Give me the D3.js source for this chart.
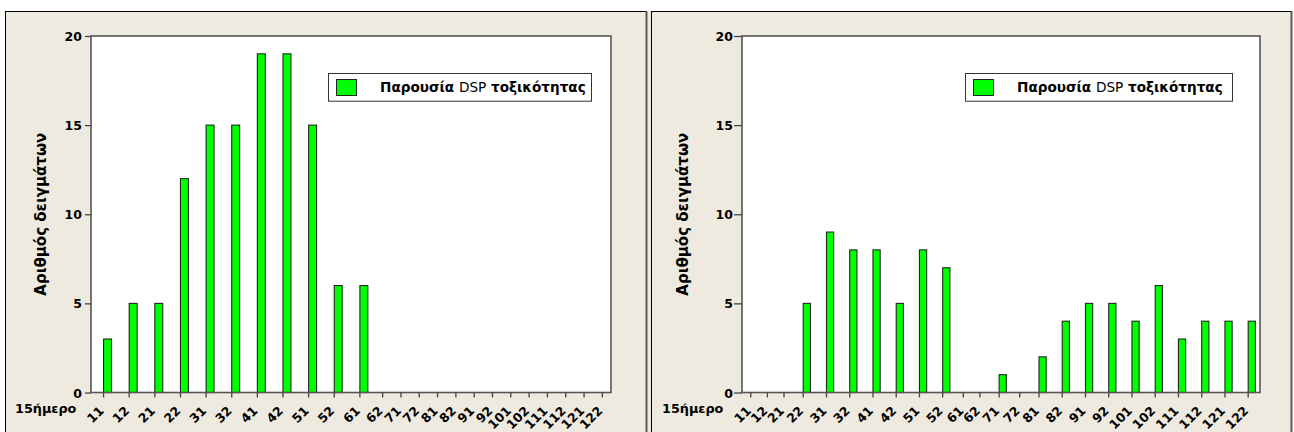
<!DOCTYPE html>
<html>
<head>
<meta charset="utf-8">
<script src="https://cdn.jsdelivr.net/npm/d3@7"></script>
<style>
  html, body { margin: 0; padding: 0; background: #ffffff; }
  svg { display: block; }
  text { font-family: "DejaVu Sans", Verdana, sans-serif; font-weight: bold; fill: #000; }
</style>
</head>
<body>
<svg id="chart" width="1294" height="432"></svg>
<script>
// ---- data ----
const categories = ["11","12","21","22","31","32","41","42","51","52","61","62","71","72","81","82","91","92","101","102","111","112","121","122"];
const leftValues  = [3,5,5,12,15,15,19,19,15,6,6,0,0,0,0,0,0,0,0,0,0,0,0,0];
const rightValues = [0,0,0,5,9,8,8,5,8,7,0,0,1,0,2,4,5,5,4,6,3,4,4,4];
const yTicks = [0,5,10,15,20];
const yTitle = "Αριθμός δειγμάτων";
const xTitle = "15ήμερο";
const legendMain1 = "Παρουσία ";
const legendDSP = "DSP";
const legendMain2 = " τοξικότητας";

// ---- layout ----
const panels = [
  { values: leftValues, frame: [5.5, 11.5, 646.5], plot: [91, 36, 611, 392.5],
    yTickSize: 6, yPad: 3, yTitleX: 46, xTitleX: 15, legend: [328, 73, 591, 100.7], legendTextX: 380 },
  { values: rightValues, frame: [651.5, 11.5, 1291.5], plot: [742, 36, 1260, 392.5],
    yTickSize: 8, yPad: 1, yTitleX: 688, xTitleX: 662, legend: [965, 73, 1232, 100.7], legendTextX: 1017 }
];

const svg = d3.select("#chart");
// beige strip between the two panels
svg.append("rect").attr("x", 646).attr("y", 11).attr("width", 6).attr("height", 430).attr("fill", "#EEEAE0");

panels.forEach(p => {
  const g = svg.append("g");
  const [fx0, fy0, fx1] = p.frame;
  // panel background
  g.append("rect").attr("x", fx0).attr("y", fy0).attr("width", fx1 - fx0).attr("height", 440)
    .attr("fill", "#EEEAE0").attr("stroke", "#000").attr("stroke-width", 1);
  g.append("line").attr("x1", fx1).attr("x2", fx1).attr("y1", fy0).attr("y2", 440)
    .attr("stroke", "#5a5a5a").attr("stroke-width", 2);

  const [px0, py0, px1, py1] = p.plot;
  g.append("rect").attr("x", px0).attr("y", py0).attr("width", px1 - px0).attr("height", py1 - py0)
    .attr("fill", "#ffffff");

  // x positions: categories with bars take wider bands
  const weights = p.values.map(v => v > 0 ? 1.4 : 1);
  const ends = Array.from(d3.cumsum(weights));
  const total = ends[ends.length - 1];
  const xLin = d3.scaleLinear().domain([0, total]).range([px0, px1]);
  const tickPos = weights.map((w, i) => xLin(ends[i] - w + (w > 1 ? 0.47 : 0.5) * w));
  const x = d3.scaleOrdinal().domain(categories).range(tickPos);
  const barW = xLin(1.4 * 0.31) - xLin(0);

  const y = d3.scaleLinear().domain([0, 20]).range([py1, py0]);

  // bars
  g.append("g").selectAll("rect")
    .data(categories.map((c, i) => ({ c, v: p.values[i] })).filter(d => d.v > 0))
    .join("rect")
    .attr("x", d => x(d.c) + 0.5)
    .attr("y", d => y(d.v))
    .attr("width", barW)
    .attr("height", d => y(0) - y(d.v))
    .attr("fill", "#00FF00")
    .attr("stroke", "#1c2a1c")
    .attr("stroke-width", 1.1);

  // plot frame
  g.append("rect").attr("x", px0).attr("y", py0).attr("width", px1 - px0).attr("height", py1 - py0)
    .attr("fill", "none").attr("stroke", "#555").attr("stroke-width", 1.6);

  // y axis
  const yAxis = d3.axisLeft(y).tickValues(yTicks).tickSize(p.yTickSize).tickPadding(p.yPad);
  const ya = g.append("g").attr("transform", `translate(${px0},0)`).call(yAxis);
  ya.select(".domain").remove();
  ya.selectAll("line").attr("stroke", "#444").attr("stroke-width", 1.3);
  ya.selectAll("text").attr("font-size", 12.5).attr("font-family", null).attr("dy", "0.36em");

  // x axis
  const xAxis = d3.axisBottom(x).tickSize(5).tickPadding(0);
  const xa = g.append("g").attr("transform", `translate(0,${py1})`).call(xAxis);
  xa.select(".domain").remove();
  xa.selectAll("line").attr("stroke", "#444").attr("stroke-width", 1.3);
  xa.selectAll("text")
    .attr("font-size", 12.5).attr("font-family", null)
    .attr("text-anchor", "end")
    .attr("dy", null)
    .attr("y", 0)
    .attr("transform", "translate(1,19) rotate(-45)");

  // titles
  g.append("text").attr("x", p.xTitleX).attr("y", 413).attr("font-size", 12.8).text(xTitle);
  g.append("text")
    .attr("transform", `translate(${p.yTitleX},${(py0 + py1) / 2}) rotate(-90)`)
    .attr("text-anchor", "middle").attr("font-size", 15).text(yTitle);

  // legend
  const [lx0, ly0, lx1, ly1] = p.legend;
  g.append("rect").attr("x", lx0 + 0.5).attr("y", ly0 + 0.5).attr("width", lx1 - lx0).attr("height", ly1 - ly0)
    .attr("fill", "#fff").attr("stroke", "#333").attr("stroke-width", 1);
  g.append("rect").attr("x", lx0 + 8.5).attr("y", ly0 + 6.5).attr("width", 20).attr("height", 16)
    .attr("fill", "#00FF00").attr("stroke", "#1c2a1c").attr("stroke-width", 1);
  const lt = g.append("text").attr("x", p.legendTextX).attr("y", (ly0 + ly1) / 2 + 5).attr("font-size", 13.6);
  lt.append("tspan").text(legendMain1);
  lt.append("tspan").attr("font-weight", "normal").text(legendDSP);
  lt.append("tspan").text(legendMain2);
});
</script>
</body>
</html>
